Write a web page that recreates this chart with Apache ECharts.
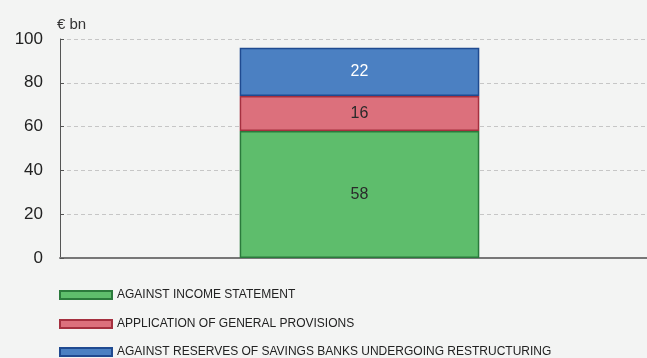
<!DOCTYPE html>
<html><head><meta charset="utf-8">
<script src="https://cdn.jsdelivr.net/npm/echarts@6/dist/echarts.min.js"></script>
<style>html,body{margin:0;padding:0;background:#f3f4f3}#c{width:647px;height:358px}</style>
</head><body><div id="c"></div>
<script>
const categories = [''];
const incomeStatement = [58];
const generalProvisions = [16];
const savingsReserves = [22];
const yTicks = [0, 20, 40, 60, 80, 100];
const seriesNames = ['AGAINST INCOME STATEMENT', 'APPLICATION OF GENERAL PROVISIONS', 'AGAINST RESERVES OF SAVINGS BANKS UNDERGOING RESTRUCTURING'];

const chart = echarts.init(document.getElementById('c'), null, {renderer: 'canvas'});
const lbl = (color) => ({show: true, position: 'inside', color: color, fontSize: 16, fontFamily: 'Liberation Sans, Arial, sans-serif'});
const legendTops = [284, 313, 341];
const legends = seriesNames.map((n, i) => ({
  orient: 'vertical', left: 54, top: legendTops[i], itemWidth: 52, itemHeight: 8, itemGap: 0,
  icon: 'rect', selectedMode: false,
  textStyle: {fontFamily: 'Liberation Sans Narrow, Arial Narrow, Liberation Sans, sans-serif', fontSize: 12, color: '#222'},
  data: [n]
}));
chart.setOption({
  backgroundColor: '#f3f4f3',
  animation: false,
  grid: {left: 60, right: -12, top: 39, bottom: 100, outerBoundsMode: 'none'},
  legend: legends,
  xAxis: {
    type: 'category', data: categories,
    axisLine: {lineStyle: {color: '#777', width: 2}},
    axisTick: {show: false}, axisLabel: {show: false}
  },
  yAxis: {
    type: 'value', min: yTicks[0], max: yTicks[yTicks.length - 1], interval: 20,
    name: '€ bn', nameLocation: 'end', nameGap: 7,
    nameTextStyle: {align: 'left', padding: [0, 0, 0, -3], color: '#333', fontSize: 15, fontFamily: 'Liberation Sans, Arial, sans-serif'},
    axisLine: {show: true, lineStyle: {color: '#555'}},
    axisTick: {show: true, inside: true, length: 4, lineStyle: {color: '#555'}},
    axisLabel: {color: '#222', fontSize: 17, margin: 17, fontFamily: 'Liberation Sans, Arial, sans-serif'},
    splitLine: {show: true, lineStyle: {color: '#c6c6c6', type: [4, 3]}}
  },
  series: [
    {name: seriesNames[0], type: 'bar', stack: 's', barWidth: '40%', data: incomeStatement,
     itemStyle: {color: '#5ebd6c', borderColor: '#2b7a3c', borderWidth: 1.5}, label: lbl('#2a2a2a')},
    {name: seriesNames[1], type: 'bar', stack: 's', data: generalProvisions,
     itemStyle: {color: '#dc707c', borderColor: '#a5303f', borderWidth: 1.5}, label: lbl('#2a2a2a')},
    {name: seriesNames[2], type: 'bar', stack: 's', data: savingsReserves,
     itemStyle: {color: '#4b80c2', borderColor: '#1f4a90', borderWidth: 1.5}, label: lbl('#ffffff')}
  ]
});
</script></body></html>
